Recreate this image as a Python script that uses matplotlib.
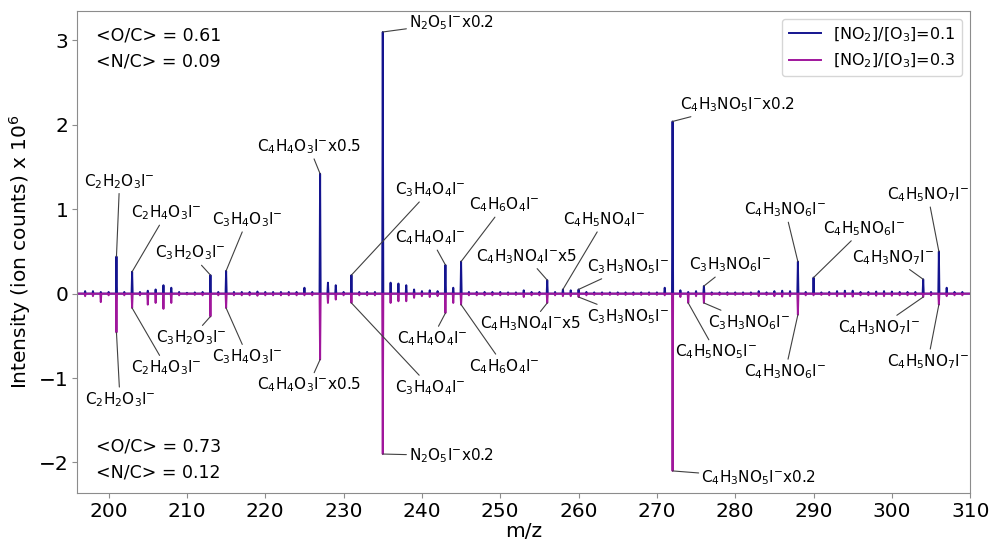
import numpy as np
import matplotlib
matplotlib.use("Agg")
import matplotlib.pyplot as plt

# integer m/z grid of the spectra
mz = np.arange(197, 310)
mz_range = (196, 310)

# [NO2]/[O3]=0.1 (plotted upward), ion counts x 1e6
low_no2 = [
    0.03, 0.03, 0.02, 0.02, 0.44, 0.02, 0.26, 0.02, 0.035, 0.05,   # 197-206
    0.10, 0.07, 0.02, 0.01, 0.015, 0.02, 0.22, 0.02, 0.27, 0.02,   # 207-216
    0.02, 0.02, 0.025, 0.02, 0.02, 0.02, 0.02, 0.02, 0.07, 0.02,   # 217-226
    1.42, 0.13, 0.10, 0.02, 0.22, 0.02, 0.02, 0.02, 3.10, 0.13,    # 227-236
    0.12, 0.10, 0.05, 0.03, 0.04, 0.03, 0.34, 0.07, 0.38, 0.02,    # 237-246
    0.02, 0.02, 0.02, 0.02, 0.015, 0.015, 0.04, 0.02, 0.02, 0.16,  # 247-256
    0.02, 0.05, 0.04, 0.05, 0.02, 0.015, 0.015, 0.015, 0.015, 0.015,  # 257-266
    0.015, 0.015, 0.015, 0.015, 0.07, 2.04, 0.04, 0.02, 0.03, 0.09,   # 267-276
    0.015, 0.015, 0.015, 0.015, 0.015, 0.015, 0.03, 0.015, 0.03, 0.035,  # 277-286
    0.03, 0.38, 0.02, 0.19, 0.015, 0.02, 0.03, 0.035, 0.035, 0.02,   # 287-296
    0.02, 0.025, 0.03, 0.025, 0.02, 0.02, 0.02, 0.17, 0.02, 0.50,    # 297-306
    0.07, 0.02, 0.02,                                                 # 307-309
]

# [NO2]/[O3]=0.3 (plotted downward)
high_no2 = [
    0.03, 0.03, 0.10, 0.02, 0.46, 0.02, 0.17, 0.02, 0.13, 0.11,
    0.18, 0.11, 0.02, 0.01, 0.015, 0.02, 0.27, 0.02, 0.17, 0.02,
    0.02, 0.02, 0.025, 0.02, 0.02, 0.02, 0.02, 0.02, 0.02, 0.02,
    0.78, 0.11, 0.07, 0.02, 0.11, 0.02, 0.02, 0.02, 1.90, 0.11,
    0.09, 0.09, 0.05, 0.03, 0.04, 0.03, 0.23, 0.11, 0.13, 0.02,
    0.02, 0.02, 0.02, 0.02, 0.015, 0.015, 0.04, 0.02, 0.02, 0.11,
    0.02, 0.03, 0.03, 0.04, 0.02, 0.015, 0.015, 0.015, 0.015, 0.015,
    0.015, 0.015, 0.015, 0.015, 0.02, 2.10, 0.04, 0.11, 0.03, 0.11,
    0.015, 0.015, 0.015, 0.015, 0.015, 0.015, 0.03, 0.015, 0.03, 0.035,
    0.03, 0.25, 0.02, 0.02, 0.015, 0.02, 0.03, 0.035, 0.035, 0.02,
    0.02, 0.025, 0.03, 0.025, 0.02, 0.02, 0.02, 0.04, 0.02, 0.13,
    0.03, 0.02, 0.02,
]

# peak labels: (text, peak m/z, label x, label y)
top_labels = [
    ("C$_2$H$_2$O$_3$I$^{-}$", 201, 201.4, 1.33),
    ("C$_2$H$_4$O$_3$I$^{-}$", 203, 207.4, 0.955),
    ("C$_3$H$_2$O$_3$I$^{-}$", 213, 210.45, 0.48),
    ("C$_3$H$_4$O$_3$I$^{-}$", 215, 217.7, 0.875),
    ("C$_4$H$_4$O$_3$I$^{-}$x0.5", 227, 225.6, 1.74),
    ("C$_3$H$_4$O$_4$I$^{-}$", 231, 241.1, 1.23),
    ("N$_2$O$_5$I$^{-}$x0.2", 235, 243.8, 3.21),
    ("C$_4$H$_4$O$_4$I$^{-}$", 243, 241.1, 0.66),
    ("C$_4$H$_6$O$_4$I$^{-}$", 245, 250.5, 1.05),
    ("C$_4$H$_3$NO$_4$I$^{-}$x5", 256, 253.35, 0.44),
    ("C$_4$H$_5$NO$_4$I$^{-}$", 258, 263.3, 0.875),
    ("C$_3$H$_3$NO$_5$I$^{-}$", 260, 266.3, 0.32),
    ("C$_4$H$_3$NO$_5$I$^{-}$x0.2", 272, 280.3, 2.24),
    ("C$_3$H$_3$NO$_6$I$^{-}$", 276, 279.4, 0.34),
    ("C$_4$H$_3$NO$_6$I$^{-}$", 288, 286.4, 0.99),
    ("C$_4$H$_5$NO$_6$I$^{-}$", 290, 296.4, 0.77),
    ("C$_4$H$_3$NO$_7$I$^{-}$", 304, 300.1, 0.43),
    ("C$_4$H$_5$NO$_7$I$^{-}$", 306, 304.6, 1.17),
]

bottom_labels = [
    ("C$_2$H$_2$O$_3$I$^{-}$", 201, 201.45, -1.25),
    ("C$_2$H$_4$O$_3$I$^{-}$", 203, 207.4, -0.875),
    ("C$_3$H$_2$O$_3$I$^{-}$", 213, 210.6, -0.52),
    ("C$_3$H$_4$O$_3$I$^{-}$", 215, 217.75, -0.745),
    ("C$_4$H$_4$O$_3$I$^{-}$x0.5", 227, 225.55, -1.08),
    ("C$_3$H$_4$O$_4$I$^{-}$", 231, 241.1, -1.11),
    ("N$_2$O$_5$I$^{-}$x0.2", 235, 243.8, -1.92),
    ("C$_4$H$_4$O$_4$I$^{-}$", 243, 241.3, -0.53),
    ("C$_4$H$_6$O$_4$I$^{-}$", 245, 250.5, -0.86),
    ("C$_4$H$_3$NO$_4$I$^{-}$x5", 256, 253.9, -0.355),
    ("C$_3$H$_3$NO$_5$I$^{-}$", 260, 266.3, -0.27),
    ("C$_4$H$_3$NO$_5$I$^{-}$x0.2", 272, 283.0, -2.18),
    ("C$_4$H$_5$NO$_5$I$^{-}$", 274, 277.5, -0.69),
    ("C$_3$H$_3$NO$_6$I$^{-}$", 276, 281.8, -0.34),
    ("C$_4$H$_3$NO$_6$I$^{-}$", 288, 286.4, -0.92),
    ("C$_4$H$_3$NO$_7$I$^{-}$", 304, 298.4, -0.40),
    ("C$_4$H$_5$NO$_7$I$^{-}$", 306, 304.6, -0.80),
]

series_names = ["[NO$_2$]/[O$_3$]=0.1", "[NO$_2$]/[O$_3$]=0.3"]
ratios_top = "<O/C> = 0.61\n<N/C> = 0.09"
ratios_bottom = "<O/C> = 0.73\n<N/C> = 0.12"

blue = "#14148f"
magenta = "#a0169c"
gray = "0.55"


def stick_profile(masses, heights, half_width=0.07):
    # narrow peaks joined by a zero baseline running over the full m/z window
    x = np.column_stack([masses - half_width, masses, masses + half_width]).ravel()
    y = np.column_stack([np.zeros(len(heights)), heights, np.zeros(len(heights))]).ravel()
    x = np.concatenate([[mz_range[0]], x, [mz_range[1]]])
    y = np.concatenate([[0], y, [0]])
    return x, y


fig, ax = plt.subplots(figsize=(9.91, 5.44), dpi=100)
fig.subplots_adjust(left=0.078, right=0.979, top=0.980, bottom=0.094)

pos = np.array(low_no2)
neg = -np.array(high_no2)

x, y = stick_profile(mz, pos)
ax.plot(x, y, color=blue, lw=1.4, label=series_names[0])
x, y = stick_profile(mz, neg)
ax.plot(x, y, color=magenta, lw=1.4, label=series_names[1])

arrow = dict(arrowstyle="-", color="0.25", lw=0.8, shrinkA=0, shrinkB=0)
for text, m, tx, ty in top_labels:
    tip = pos[list(mz).index(m)]
    ax.annotate(text, xy=(m, tip), xytext=(tx, ty), ha="center", va="center",
                fontsize=11, arrowprops=arrow)
for text, m, tx, ty in bottom_labels:
    tip = neg[list(mz).index(m)]
    ax.annotate(text, xy=(m, tip), xytext=(tx, ty), ha="center", va="center",
                fontsize=11, arrowprops=arrow)

ax.text(0.021, 0.968, ratios_top, transform=ax.transAxes, ha="left", va="top",
        fontsize=12.5, linespacing=1.55)
ax.text(0.021, 0.115, ratios_bottom, transform=ax.transAxes, ha="left", va="top",
        fontsize=12.5, linespacing=1.55)

ax.set_xlim(*mz_range)
ax.set_ylim(-2.36, 3.35)
ax.set_xticks(np.arange(200, 311, 10))
ax.set_yticks([-2, -1, 0, 1, 2, 3])
ax.set_xlabel("m/z", fontsize=14.5, labelpad=1)
ax.set_ylabel("Intensity (ion counts) x 10$^6$", fontsize=14.5)
ax.tick_params(labelsize=14.5, color=gray, pad=3)
for s in ax.spines.values():
    s.set_color(gray)

ax.legend(loc="upper right", fontsize=11.5)

fig.savefig("out.png", dpi=100)
